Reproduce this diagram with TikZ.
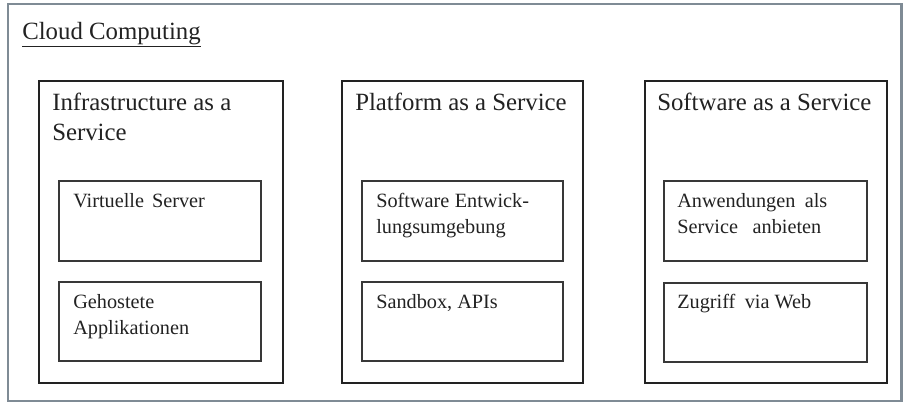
\documentclass[tikz,border=0pt]{standalone}
\usepackage{fontspec}
\setmainfont{Liberation Serif}
\definecolor{framegrey}{HTML}{7F8B95}
\definecolor{ink}{HTML}{222222}
\tikzset{
  x=0.75pt, y=-0.75pt,
  framebox/.style={draw=framegrey, line width=2.2pt},
  column/.style={draw=ink, line width=1.1pt},
  itembox/.style={draw=ink!90, line width=1.1pt},
  title/.style={font=\fontsize{18.6pt}{22.5pt}\selectfont, text=ink, anchor=north west, inner sep=0pt, align=left},
  itemtext/.style={font=\fontsize{15.2pt}{19.5pt}\selectfont, text=ink, anchor=north west, inner sep=0pt, align=left},
}
\begin{document}
\begin{tikzpicture}
\useasboundingbox (0,0) rectangle (906,403);
% outer frame
\draw[framebox] (8,4) rectangle (901.5,401);
\node[title] (cc) at (22,22) {\underline{Cloud Computing}};

% three columns
\draw[column] (39,81) rectangle (283,383);
\draw[column] (342,81) rectangle (583,383);
\draw[column] (645,81) rectangle (887,383);

\node[title] (iaas) at (52,93) {Infrastructure as a\\Service};
\node[title] (paas) at (355,93) {Platform as a Service};
\node[title] (saas) at (657,93) {Software as a Service};

% item boxes
\draw[itembox] (59,181) rectangle (261,261);
\draw[itembox] (59,282) rectangle (261,361);
\draw[itembox] (362,181) rectangle (563,261);
\draw[itembox] (362,282) rectangle (563,361);
\draw[itembox] (664,181) rectangle (867,261);
\draw[itembox] (664,283) rectangle (867,362);

\node[itemtext] (vs) at (73,193) {Virtuelle\hspace{6pt}Server};
\node[itemtext] (ga) at (73,294) {Gehostete\\Applikationen};
\node[itemtext] (se) at (376,193) {Software\hspace{4pt}Entwick-\\lungsumgebung};
\node[itemtext] (sb) at (376,294) {Sandbox, APIs};
\node[itemtext] (as) at (677,193) {Anwendungen\hspace{7pt}als\\Service\hspace{11pt}anbieten};
\node[itemtext] (zw) at (677,294) {Zugriff\hspace{7pt}via Web};
\end{tikzpicture}
\end{document}
